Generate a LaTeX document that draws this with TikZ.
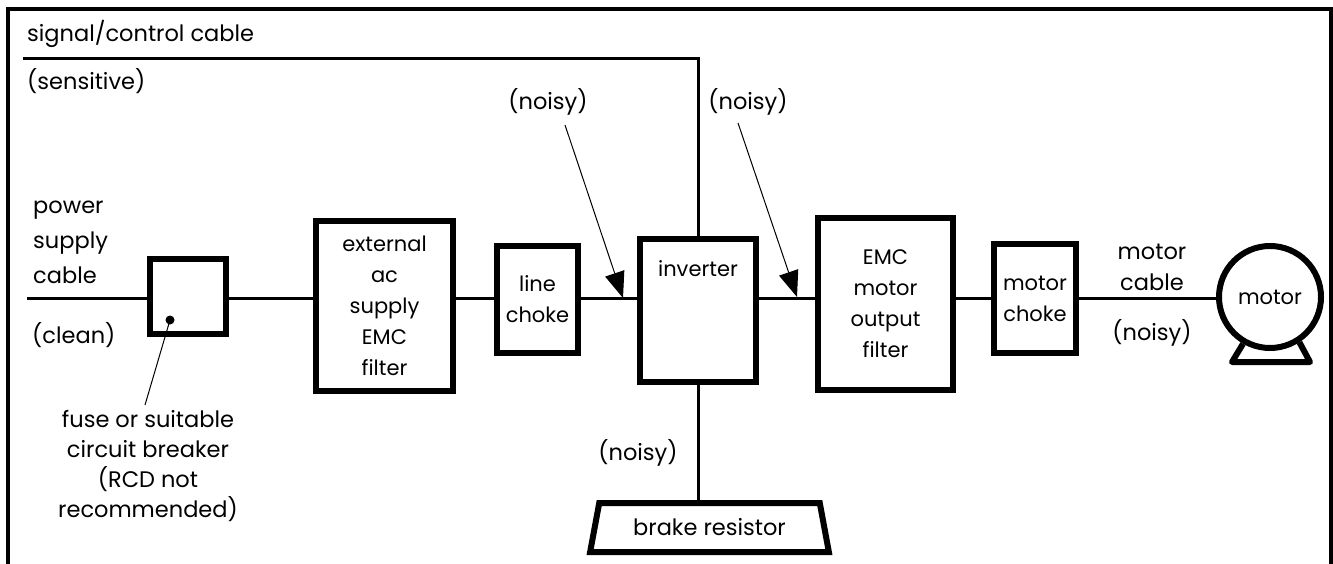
\documentclass[tikz,border=0pt]{standalone}
\usepackage{fontspec}
\setmainfont{Poppins}
\usetikzlibrary{arrows.meta,positioning,shapes.geometric}
\begin{document}
\begin{tikzpicture}[x=1pt,y=-1pt,
        font=\fontsize{22.5}{31}\selectfont,
        box/.style={draw,line width=6pt,inner sep=0pt,align=center,font=\fontsize{21}{31}\selectfont},
        wire/.style={line width=3pt},
        leader/.style={line width=1pt},
        pointer/.style={leader,-{Triangle[length=26pt,width=20pt]}},
        txt/.style={inner sep=0pt}]
                \useasboundingbox (0,0) rectangle (1333,564);
                % frame
                \draw[line width=4pt] (8,570) -- (8,9) -- (1331,9) -- (1331,570);
                % blocks along the supply line
                \node[box,minimum width=76pt,minimum height=75pt] (fuse) at (188,296.5) {};
                \node[box,minimum width=137pt,minimum height=170pt] (extfilter) at (384.5,306) {external\\ac\\supply\\EMC\\filter};
                \node[box,minimum width=81pt,minimum height=107pt] (linechoke) at (537.5,299.5) {line\\choke};
                \node[box,minimum width=116pt,minimum height=143pt] (inverter) at (698,310.5) {};
                \node[txt,below=24pt of inverter.north,font=\fontsize{21}{31}\selectfont] (invtxt) {inverter};
                \node[box,minimum width=135pt,minimum height=172pt] (outfilter) at (885.5,304) {EMC\\motor\\output\\filter};
                \node[box,minimum width=82pt,minimum height=109pt] (motorchoke) at (1035,298.5) {motor\\choke};
                \node[box,circle,minimum size=102pt] (motor) at (1270,297) {motor};
                \node[box,trapezium,trapezium stretches=true,trapezium angle=70,
                    minimum width=239pt,minimum height=49pt,font=\fontsize{22.5}{31}\selectfont] (brake) at (709.5,527.5) {brake resistor};
                % motor feet
                \draw[line width=6pt,line join=round] (motor.-120) -- (1232,362) -- (1310,362) -- (motor.-57);
                % cables
                \coordinate (mains) at (27,298);
                \coordinate (sigend) at (23,59);
                \draw[wire] (mains) -- (fuse.west |- mains);
                \draw[wire] (fuse.east |- mains) -- (extfilter.west |- mains);
                \draw[wire] (extfilter.east |- mains) -- (linechoke.west |- mains);
                \draw[wire] (linechoke.east |- mains) -- (inverter.west |- mains);
                \draw[wire] (inverter.east |- mains) -- (outfilter.west |- mains);
                \draw[wire] (outfilter.east |- mains) -- (motorchoke.west |- mains);
                \draw[wire] (motorchoke.east |- mains) -- (motor.west |- mains);
                \draw[wire] (sigend) -- (inverter.north |- sigend) -- (inverter.north);
                \draw[wire] (inverter.south) -- (inverter.south |- brake.north);
                % labels
                \node[txt,anchor=base west] (sigtxt) at (27,42) {signal/control cable};
                \node[txt,anchor=base west] (sensitive) at (27,90) {(sensitive)};
                \node[txt,anchor=base west,align=left,font=\fontsize{22.5}{35}\selectfont] (powertxt) at (33,283) {power\\supply\\cable};
                \node[txt,anchor=base west] (clean) at (32,343) {(clean)};
                \node[txt,anchor=base,align=center,font=\fontsize{22.5}{30}\selectfont] (fusetxt) at (148,517) {fuse or suitable\\circuit breaker\\(RCD not\\recommended)};
                \node[txt,anchor=base] (noisyin) at (548,110) {(noisy)};
                \node[txt,anchor=base] (noisyout) at (748,110) {(noisy)};
                \node[txt,anchor=base] (noisybrake) at (638,460) {(noisy)};
                \node[txt,anchor=base,align=center] (cabletxt) at (1152,290) {motor\\cable};
                \node[txt,anchor=base] (noisymotor) at (1152,340) {(noisy)};
                % pointers
                \coordinate (tailin) at (565,125);
                \coordinate (tipin) at (623,298);
                \coordinate (tailout) at (738,123);
                \coordinate (tipout) at (797,297);
                \draw[pointer] (tailin) -- (tipin);
                \draw[pointer] (tailout) -- (tipout);
                \fill (170,320) coordinate (fusedot) circle (4.5);
                \coordinate (fuseend) at (145,405);
                \draw[leader] (fusedot) -- (fuseend);
\end{tikzpicture}
\end{document}
